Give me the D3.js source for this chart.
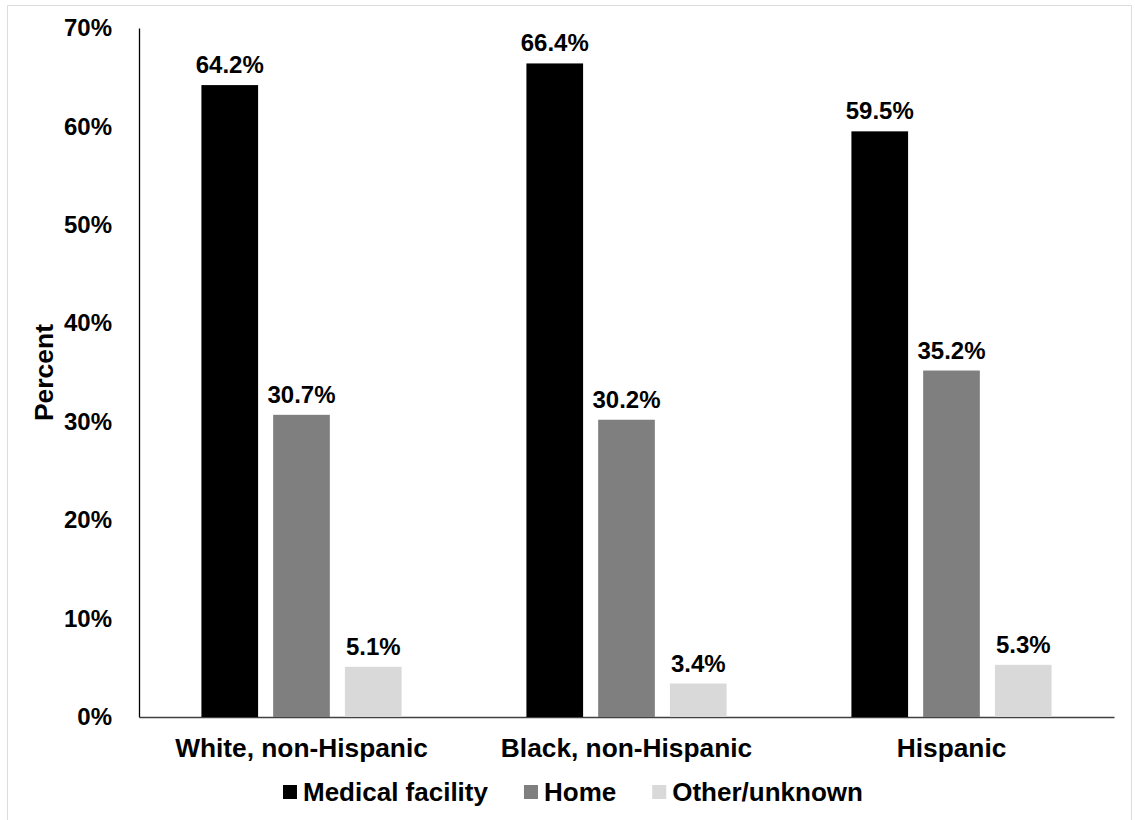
<!DOCTYPE html>
<html>
<head>
<meta charset="utf-8">
<script src="https://cdn.jsdelivr.net/npm/d3@7"></script>
<style>
  body { margin: 0; background: #fff; }
  text { font-family: "Liberation Sans", Arial, sans-serif; font-weight: bold; fill: #000; }
</style>
</head>
<body>
<div id="chart"></div>
<script>
// chart data
var groups = ["White, non-Hispanic", "Black, non-Hispanic", "Hispanic"];
var series = ["Medical facility", "Home", "Other/unknown"];
var medical = [64.2, 66.4, 59.5];
var home = [30.7, 30.2, 35.2];
var other = [5.1, 3.4, 5.3];
var yTicks = [0, 10, 20, 30, 40, 50, 60, 70];

var colors = ["#000000", "#7f7f7f", "#d9d9d9"];
var values = [medical, home, other];

// svg area
var svgWidth = 1135;
var svgHeight = 820;
var margin = { top: 28, bottom: 103, left: 139, right: 21 };
var chartWidth = svgWidth - margin.left - margin.right;
var chartHeight = svgHeight - margin.top - margin.bottom;

var svg = d3.select("#chart")
    .append("svg")
    .attr("width", svgWidth)
    .attr("height", svgHeight);

// faint frame round the picture
svg.append("path")
    .attr("d", "M7.5,820 V5.5 H1131.5 V820")
    .attr("fill", "none")
    .attr("stroke", "#dcdcdc")
    .attr("stroke-width", 1);

var chartGroup = svg.append("g")
    .attr("transform", `translate(${margin.left}, ${margin.top})`);

// scales
var x0 = d3.scaleBand()
    .domain(groups)
    .range([0, chartWidth]);

var x1 = d3.scaleBand()
    .domain(series)
    .range([0, x0.bandwidth()])
    .paddingInner(0.21)
    .paddingOuter(0.87);

var y = d3.scaleLinear()
    .domain([0, 70])
    .range([chartHeight, 0]);

// y axis
var leftAxis = d3.axisLeft(y)
    .tickValues(yTicks)
    .tickSize(0)
    .tickPadding(27)
    .tickFormat(d => d + "%");

var yAxis = chartGroup.append("g").call(leftAxis);
yAxis.select(".domain").attr("stroke", "#000").attr("stroke-width", 1.3);
yAxis.selectAll("text")
    .style("font-size", "24px")
    .attr("fill", "#000");

// x axis
var bottomAxis = d3.axisBottom(x0)
    .tickSize(0)
    .tickPadding(21);

var xAxis = chartGroup.append("g")
    .attr("transform", `translate(0, ${chartHeight})`)
    .call(bottomAxis);
xAxis.select(".domain").attr("stroke", "#404040").attr("stroke-width", 1.3);
xAxis.selectAll("text")
    .style("font-size", "26.3px")
    .attr("fill", "#000");

// y title
chartGroup.append("text")
    .attr("transform", `translate(-95, ${y(35)}) rotate(-90)`)
    .attr("text-anchor", "middle")
    .attr("dy", "0.35em")
    .style("font-size", "26.5px")
    .text("Percent");

// bars
var rows = groups.map(function(g, i) {
    return { group: g, vals: series.map((s, j) => ({ key: s, idx: j, value: values[j][i] })) };
});

var groupSel = chartGroup.selectAll(".grp")
    .data(rows)
    .enter()
    .append("g")
    .attr("class", "grp")
    .attr("transform", d => `translate(${x0(d.group)}, 0)`);

groupSel.selectAll("rect")
    .data(d => d.vals)
    .enter()
    .append("rect")
    .attr("x", d => x1(d.key))
    .attr("y", d => y(d.value))
    .attr("width", x1.bandwidth())
    .attr("height", d => chartHeight - y(d.value))
    .attr("fill", d => colors[d.idx]);

groupSel.selectAll(".lbl")
    .data(d => d.vals)
    .enter()
    .append("text")
    .attr("class", "lbl")
    .attr("x", d => x1(d.key) + x1.bandwidth() / 2)
    .attr("y", d => y(d.value) - 12)
    .attr("text-anchor", "middle")
    .style("font-size", "24px")
    .text(d => d.value.toFixed(1) + "%");

// legend
var legend = svg.append("g")
    .attr("transform", "translate(283, 792)");

var lx = 0;
series.forEach(function(s, i) {
    legend.append("rect")
        .attr("x", lx)
        .attr("y", -7)
        .attr("width", 14)
        .attr("height", 14)
        .attr("fill", colors[i]);
    var t = legend.append("text")
        .attr("x", lx + 20)
        .attr("dy", "0.36em")
        .style("font-size", "26px")
        .text(s);
    lx += 20 + t.node().getComputedTextLength() + 36;
});
</script>
</body>
</html>
